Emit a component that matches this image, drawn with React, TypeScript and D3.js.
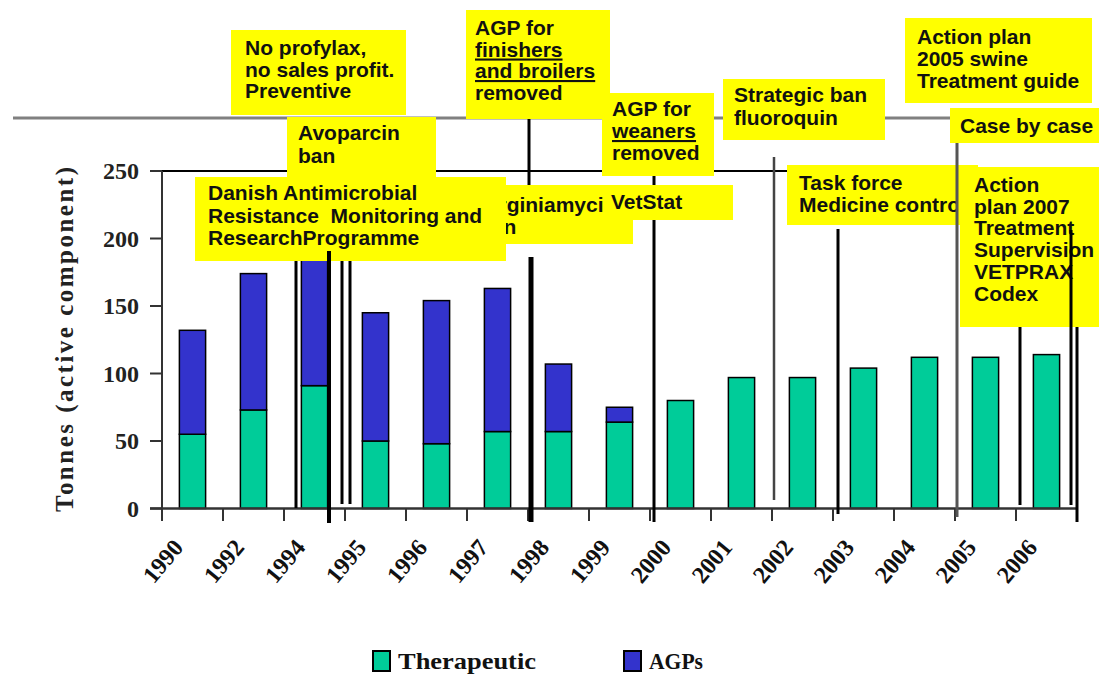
import * as d3 from 'd3'

const years = ['1990', '1992', '1994', '1995', '1996', '1997', '1998', '1999', '2000', '2001', '2002', '2003', '2004', '2005', '2006']
const therapeutic = [55, 73, 91, 50, 48, 57, 57, 64, 80, 97, 97, 104, 112, 112, 114]
const agps = [77, 101, 115, 95, 106, 106, 50, 11, 0, 0, 0, 0, 0, 0, 0]
const yTicks = [0, 50, 100, 150, 200, 250]
const seriesNames = ['Therapeutic', 'AGPs']
const seriesColors = ['#00cc99', '#3333cc']

// yellow call-out boxes, drawn in this order (later ones on top)
const notes = [
    { x: 466, y: 185, w: 167, h: 59, tx: 479, b0: 212, lh: 22, clip: 603, lines: [['Virginiamycin'], ['ban']] },
    { x: 603, y: 185, w: 130, h: 35, tx: 611, b0: 209, lh: 22, lines: [['VetStat']] },
    { x: 287, y: 117, w: 149, h: 60, tx: 298, b0: 140, lh: 22.5, lines: [['Avoparcin'], ['ban']] },
    { x: 195, y: 177, w: 311, h: 84, tx: 208, b0: 200, lh: 22.5, lines: [['Danish Antimicrobial'], ['Resistance  Monitoring and'], ['ResearchProgramme']] },
    { x: 231, y: 30, w: 175, h: 85, tx: 245, b0: 55, lh: 21.5, lines: [['No profylax,'], ['no sales profit.'], ['Preventive']] },
    { x: 466, y: 10, w: 144, h: 109, tx: 475, b0: 35, lh: 21.5, lines: [['AGP for'], ['finishers', 'u'], ['and broilers', 'u'], ['removed']] },
    { x: 602, y: 93, w: 112, h: 83, tx: 612, b0: 116, lh: 22, lines: [['AGP for'], ['weaners', 'u'], ['removed']] },
    { x: 723, y: 79, w: 162, h: 61, tx: 734, b0: 102, lh: 23, lines: [['Strategic ban'], ['fluoroquin']] },
    { x: 905, y: 18, w: 187, h: 85, tx: 917, b0: 44, lh: 22, lines: [['Action plan'], ['2005 swine'], ['Treatment guide']] },
    { x: 950, y: 108, w: 149, h: 35, tx: 960, b0: 133, lh: 22, lines: [['Case by case']] },
    { x: 787, y: 165, w: 191, h: 60, tx: 799, b0: 190, lh: 22, clip: 957, lines: [['Task force'], ['Medicine control']] },
    { x: 960, y: 167, w: 139, h: 160, tx: 974, b0: 192, lh: 21.7, lines: [['Action'], ['plan 2007'], ['Treatment'], ['Supervision'], ['VETPRAX'], ['Codex']] },
]

// vertical event markers
const markers = [
    { x: 296, y1: 261, y2: 508, w: 3, c: '#000' },
    { x: 329, y1: 251, y2: 523, w: 4, c: '#000' },
    { x: 342, y1: 261, y2: 504, w: 3, c: '#000' },
    { x: 350, y1: 261, y2: 504, w: 3, c: '#000' },
    { x: 529, y1: 119, y2: 185, w: 3, c: '#000' },
    { x: 531, y1: 257, y2: 522, w: 5, c: '#000' },
    { x: 654, y1: 176, y2: 185, w: 3, c: '#000' },
    { x: 654, y1: 220, y2: 522, w: 3, c: '#000' },
    { x: 774, y1: 157, y2: 500, w: 2.5, c: '#444' },
    { x: 838, y1: 229, y2: 514, w: 3, c: '#000' },
    { x: 957, y1: 143, y2: 517, w: 3, c: '#555' },
    { x: 1020, y1: 327, y2: 505, w: 3, c: '#000' },
    { x: 1071, y1: 230, y2: 505, w: 3, c: '#000' },
    { x: 1077, y1: 327, y2: 522, w: 3, c: '#000' },
]

const SANS = '"Liberation Sans", Arial, sans-serif'
const SERIF = '"Liberation Serif", "Times New Roman", serif'

export default function App() {
    const width = 1099
    const height = 690

    const x = d3.scaleBand()
        .domain(years)
        .range([162, 1077])
        .paddingInner(0.57)
        .paddingOuter(0.285)

    const y = d3.scaleLinear()
        .domain([0, 250])
        .range([508.5, 171])

    const step = x.step()
    const edges = d3.range(years.length + 1).map(i => 162 + i * step)

    const stacked = years.map((yr, i) => ({ year: yr, t: therapeutic[i], a: agps[i] }))

    return (
        <svg width={width} height={height}
            style={{ display: 'block', position: 'absolute', left: 0, top: 0, background: '#fff' }}>
            <defs>
                {notes.filter(n => n.clip).map((n, i) => (
                    <clipPath key={i} id={`clip-${n.x}`}>
                        <rect x={n.x} y={n.y} width={n.clip - n.x} height={n.h} />
                    </clipPath>
                ))}
            </defs>

            {/* grey timeline */}
            <line x1={13} x2={1099} y1={118} y2={118} stroke="#808080" strokeWidth={3} />
            {/* top frame */}
            <line x1={150} x2={1077} y1={y(250)} y2={y(250)} stroke="#000" strokeWidth={2} />

            {/* y axis */}
            <line x1={162} x2={162} y1={y(250)} y2={521} stroke="#333" strokeWidth={2} />
            {yTicks.map(t => (
                <g key={t}>
                    <line x1={150} x2={162} y1={y(t)} y2={y(t)} stroke="#333" strokeWidth={2} />
                    <text x={139} y={y(t)} dy="0.35em" textAnchor="end" fontFamily={SERIF}
                        fontWeight="bold" fontSize={24} fill="#222">{t}</text>
                </g>
            ))}
            <text transform={`translate(73, ${(167 + 512) / 2}) rotate(-90)`} textAnchor="middle"
                fontFamily={SERIF} fontWeight="bold" fontSize={25} fill="#222"
                textLength={345} lengthAdjust="spacing">Tonnes (active component)</text>

            {/* bars */}
            {stacked.map(d => (
                <g key={d.year}>
                    <rect x={x(d.year)} width={x.bandwidth()} y={y(d.t)} height={y(0) - y(d.t)}
                        fill={seriesColors[0]} stroke="#000" strokeWidth={1.5} />
                    {d.a > 0 && (
                        <rect x={x(d.year)} width={x.bandwidth()} y={y(d.t + d.a)} height={y(d.t) - y(d.t + d.a)}
                            fill={seriesColors[1]} stroke="#000" strokeWidth={1.5} />
                    )}
                </g>
            ))}

            {/* x axis */}
            <line x1={150} x2={1077} y1={y(0)} y2={y(0)} stroke="#333" strokeWidth={2.5} />
            {edges.map((e, i) => (
                <line key={i} x1={e} x2={e} y1={y(0)} y2={521} stroke="#333" strokeWidth={2} />
            ))}
            {years.map(yr => {
                const cx = x(yr) + x.bandwidth() / 2
                return (
                    <text key={yr} transform={`translate(${cx - 8}, 548) rotate(-50)`} textAnchor="end"
                        fontFamily={SERIF} fontWeight="bold" fontSize={24} fill="#111">{yr}</text>
                )
            })}

            {/* call-out boxes */}
            {notes.map((n, i) => (
                <g key={i}>
                    <rect x={n.x} y={n.y} width={n.w} height={n.h} fill="#ffff00" />
                    <g clipPath={n.clip ? `url(#clip-${n.x})` : undefined}>
                        {n.lines.map((l, j) => (
                            <text key={j} x={n.tx} y={n.b0 + j * n.lh} fontFamily={SANS} fontWeight="bold"
                                fontSize={21} fill="#111" textDecoration={l[1] === 'u' ? 'underline' : undefined}
                                style={{ whiteSpace: 'pre' }}>{l[0]}</text>
                        ))}
                    </g>
                </g>
            ))}

            {/* event markers */}
            {markers.map((m, i) => (
                <line key={i} x1={m.x} x2={m.x} y1={m.y1} y2={m.y2} stroke={m.c} strokeWidth={m.w} />
            ))}

            {/* legend */}
            {seriesNames.map((s, i) => {
                const lx = i === 0 ? 373 : 624
                return (
                    <g key={s}>
                        <rect x={lx} y={651} width={17} height={20} fill={seriesColors[i]} stroke="#000" strokeWidth={2} />
                        <text x={lx + 25} y={669} fontFamily={SERIF} fontWeight="bold" fontSize={24} fill="#111"
                            textLength={i === 0 ? 138 : 54} lengthAdjust="spacingAndGlyphs">{s}</text>
                    </g>
                )
            })}
        </svg>
    )
}
